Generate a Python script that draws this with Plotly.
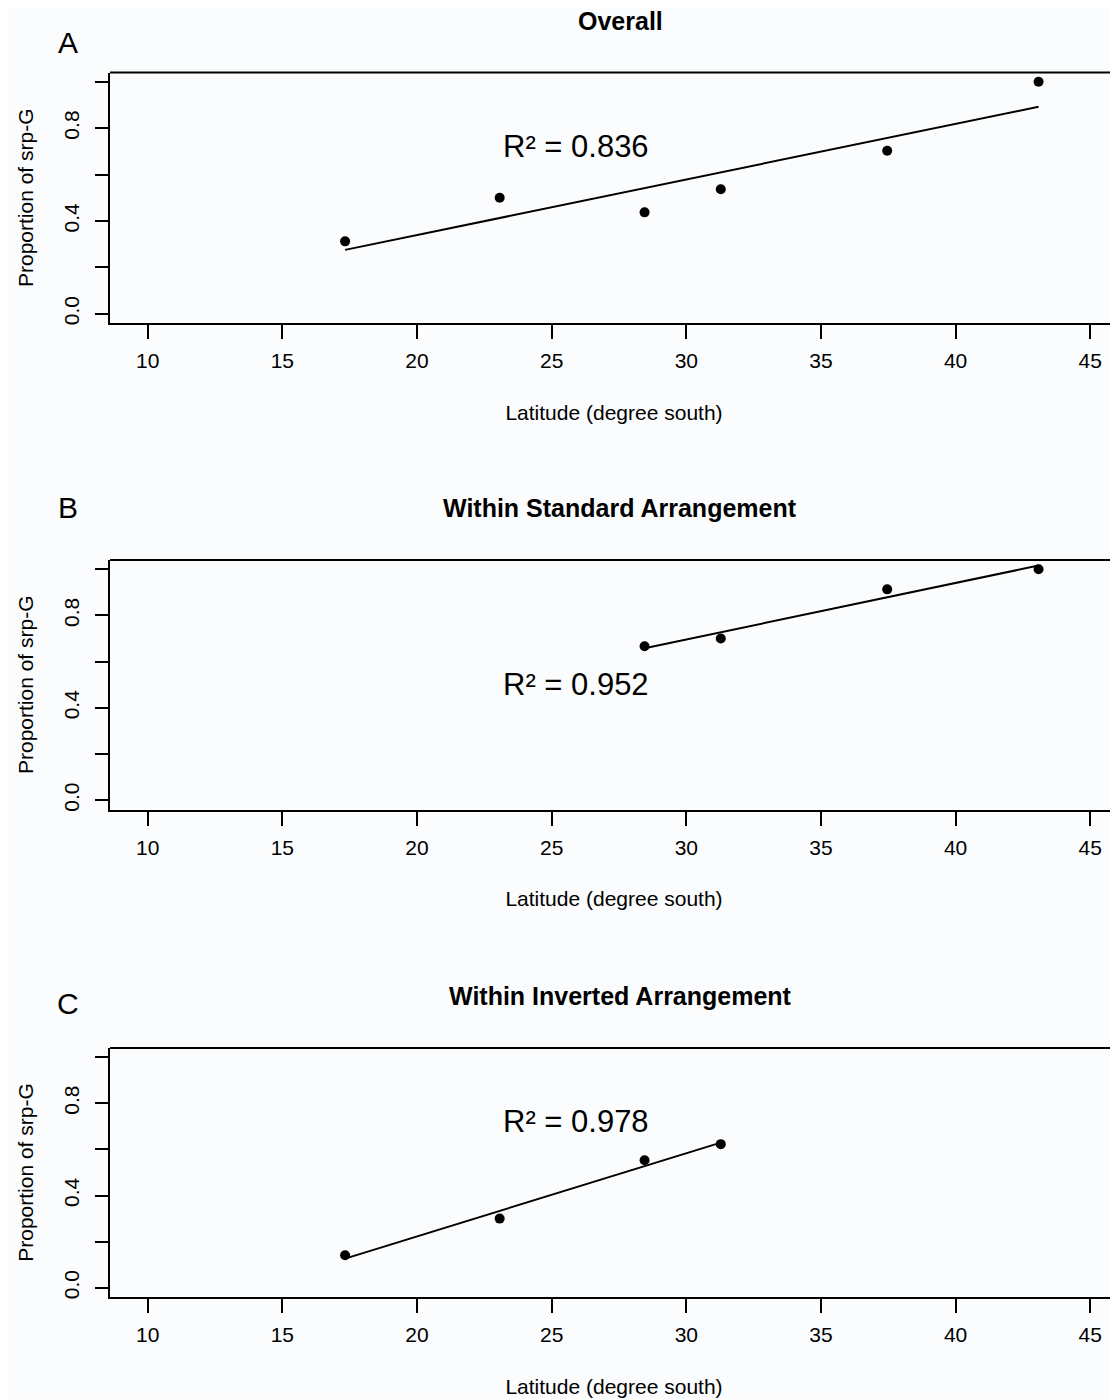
import numpy as np
import plotly.graph_objects as go

# page has an 8px body margin, so the figure is drawn 8px in from the top-left
OFF = 8
W, H = 1118 - OFF, 1399 - OFF

# ---------------- data ----------------
lat_overall = [17.33, 23.07, 28.45, 31.28, 37.46, 43.08]
prop_overall = [0.312, 0.500, 0.437, 0.537, 0.703, 1.000]

lat_standard = [28.45, 31.28, 37.46, 43.08]
prop_standard = [0.667, 0.700, 0.913, 1.000]

lat_inverted = [17.33, 23.07, 28.45, 31.28]
prop_inverted = [0.141, 0.300, 0.553, 0.623]

panel_titles = ["Overall", "Within Standard Arrangement", "Within Inverted Arrangement"]
panel_letters = ["A", "B", "C"]
r2_values = ["0.836", "0.952", "0.978"]

x_ticks = [10, 15, 20, 25, 30, 35, 40, 45]
y_ticks = [0.0, 0.4, 0.8]
y_tick_text = ["0.0", "0.4", "0.8"]
y_minor_step = 0.2

x_title = "Latitude (degree south)"
y_title = "Proportion of srp-G"

# ---------------- layout geometry (page pixels) ----------------
FONT = "Liberation Sans, Arial, Helvetica, sans-serif"
BG = "#fbfcfd"
PLOT_LEFT = 110
panel_top = [72.5, 560, 1048]
panel_bottom = [323, 809.5, 1297]
title_y = [21, 508, 996]
letter_y = [42, 507, 1003]
r2_pos = [(25.9, 0.72), (25.9, 0.50), (25.9, 0.72)]
XRANGE = [8.6, 46.03]
YRANGE = [-0.04, 1.04]


def py(p):
    return 1 - (p - OFF) / H


def px(p):
    return (p - OFF) / W


series = [
    (lat_overall, prop_overall),
    (lat_standard, prop_standard),
    (lat_inverted, prop_inverted),
]

fig = go.Figure()
annotations = []
shapes = []

for i, (xs, ys) in enumerate(series):
    n = "" if i == 0 else str(i + 1)
    xa, ya = "x" + n, "y" + n

    # fitted regression line computed from the data
    slope, intercept = np.polyfit(xs, ys, 1)
    xfit = [min(xs), max(xs)]
    yfit = [slope * v + intercept for v in xfit]
    fig.add_trace(go.Scatter(x=xfit, y=yfit, mode="lines",
                             line=dict(color="black", width=2),
                             xaxis=xa, yaxis=ya, showlegend=False, hoverinfo="skip"))
    fig.add_trace(go.Scatter(x=xs, y=ys, mode="markers",
                             marker=dict(color="black", size=10),
                             xaxis=xa, yaxis=ya, showlegend=False))

    fig.layout["xaxis" + n] = dict(
        domain=[px(PLOT_LEFT), 1], anchor=ya, range=XRANGE,
        tickvals=x_ticks, ticks="outside", ticklen=14, tickwidth=2, tickcolor="black",
        showline=True, linecolor="black", linewidth=2, showgrid=False, zeroline=False,
        tickfont=dict(size=21, color="black", family=FONT),
        ticklabelstandoff=4,
        title=dict(text=x_title, font=dict(size=21, color="black", family=FONT), standoff=34),
        automargin=False, fixedrange=True,
    )
    fig.layout["yaxis" + n] = dict(
        domain=[py(panel_bottom[i]), py(panel_top[i])], anchor=xa, range=YRANGE,
        tickvals=y_ticks, ticktext=y_tick_text, ticks="outside", ticklen=13, tickwidth=2,
        tickcolor="black", tickangle=-90,
        minor=dict(dtick=y_minor_step, tick0=0, ticks="outside", ticklen=13,
                   tickwidth=2, tickcolor="black", showgrid=False),
        showline=True, linecolor="black", linewidth=2, showgrid=False, zeroline=False,
        tickfont=dict(size=21, color="black", family=FONT),
        ticklabelstandoff=8,
        title=dict(text=y_title, font=dict(size=21, color="black", family=FONT), standoff=20),
        automargin=False, fixedrange=True,
    )

    # top border of the box (its right side falls outside the image)
    shapes.append(dict(type="line", xref=xa + " domain", yref=ya + " domain",
                       x0=0, x1=1, y0=1, y1=1, line=dict(color="black", width=2)))

    # panel title
    annotations.append(dict(text="<b>" + panel_titles[i] + "</b>", xref="paper", yref="paper",
                            x=px(620), y=py(title_y[i]), xanchor="center", yanchor="middle",
                            showarrow=False, font=dict(size=25, color="black", family=FONT)))
    # panel letter
    annotations.append(dict(text=panel_letters[i], xref="paper", yref="paper",
                            x=px(68), y=py(letter_y[i]), xanchor="center", yanchor="middle",
                            showarrow=False, font=dict(size=30, color="black", family=FONT)))
    # R^2 label
    annotations.append(dict(text="R\u00b2 = " + r2_values[i],
                            xref=xa, yref=ya,
                            x=r2_pos[i][0], y=r2_pos[i][1], xanchor="center", yanchor="middle",
                            showarrow=False, font=dict(size=31, color="black", family=FONT)))

fig.update_layout(
    width=W, height=H,
    margin=dict(l=0, r=0, t=0, b=0, pad=0),
    paper_bgcolor=BG, plot_bgcolor=BG,
    font=dict(family=FONT, color="black"),
    annotations=annotations, shapes=shapes,
    showlegend=False,
)

fig.write_html("out.html", config={"displayModeBar": False})
